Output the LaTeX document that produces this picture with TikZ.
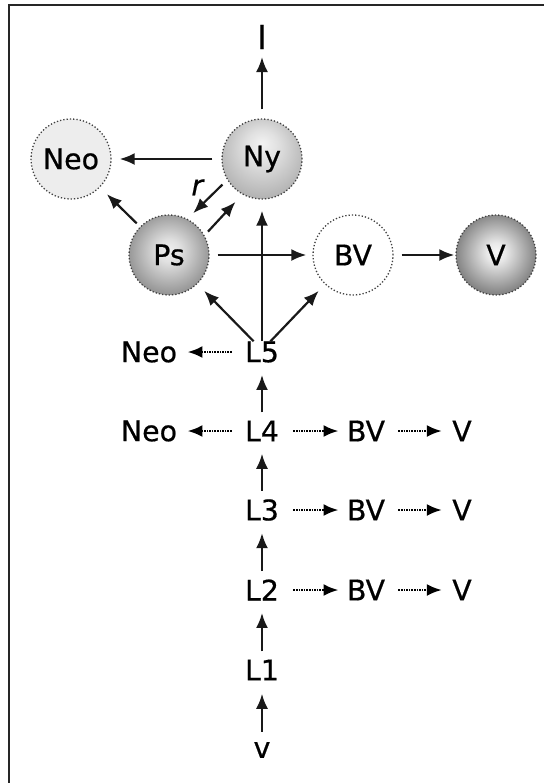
\documentclass[tikz,border=0pt]{standalone}
\usepackage{fontspec}
\setmainfont{DejaVu Sans}[FakeBold=0.6]
\usetikzlibrary{arrows.meta}
\colorlet{myframe}{black!85}
\colorlet{myrim}{black!75}
\colorlet{myneo}{black!7}
\colorlet{myarrow}{black!90}
% radial fills of the grey states
\pgfdeclareradialshading{nyshade}{\pgfpoint{0bp}{10bp}}{color(0bp)=(black!5); color(10bp)=(black!12); color(35bp)=(black!36); color(50bp)=(black!36)}
\pgfdeclareradialshading{psshade}{\pgfpoint{0bp}{3bp}}{color(0bp)=(black!6); color(7bp)=(black!12); color(28bp)=(black!45); color(50bp)=(black!45)}
\pgfdeclareradialshading{vshade}{\pgfpoint{0bp}{2bp}}{color(0bp)=(black!3); color(6bp)=(black!9); color(27bp)=(black!52); color(50bp)=(black!52)}
\tikzset{
  state node/.style={circle, minimum size=40pt, inner sep=0pt, draw=myrim, densely dotted, line width=0.65pt, font=\fontsize{14.2}{16}\selectfont},
  stage node/.style={inner sep=2pt, font=\fontsize{14.2}{16}\selectfont},
  main edge/.style={-{Latex[length=7.5pt,width=6pt]}, line width=1.1pt, draw=myarrow, shorten >=4pt, shorten <=4pt},
  chain edge/.style={main edge, shorten >=4pt, shorten <=2pt},
  dot edge/.style={-{Latex[length=7.5pt,width=6pt]}, line width=1.3pt, draw=black, dash pattern=on 0.8pt off 0.5pt, shorten >=3pt, shorten <=4.5pt},
  frame/.style={draw=myframe, line width=1.1pt}
}

\begin{document}
\begin{tikzpicture}[x=0.5pt, y=-0.5pt]

  \useasboundingbox (0,0) rectangle (544,783);
  \clip (0,0) rectangle (544,783);
  \draw[frame] (9,5) rectangle (620,860);

  % =======================================================
  % UPPER NETWORK OF STATES
  % =======================================================

  \node[stage node, font=\fontsize{16.5}{18}\selectfont] (I) at (262,37) {I};
  \node[state node, fill=myneo] (NeoC) at (71,159) {Neo};
  \node[state node, shading=nyshade] (Ny) at (262,159) {Ny};
  \node[state node, shading=psshade] (Ps) at (169,255) {Ps};
  \node[state node, fill=white] (BVC) at (353,255) {BV};
  \node[state node, shading=vshade] (VC) at (496,255) {V};

  \draw[main edge, shorten <=4.5pt, shorten >=1.8pt] (Ny) -- (I);
  \draw[main edge, shorten <=4.5pt] (Ny) -- (NeoC);
  \draw[main edge, shorten <=3.3pt, shorten >=4pt] (Ny.211) -- (Ps.63)
    node[midway, xshift=-5pt, yshift=6pt, font=\fontsize{14.2}{16}\selectfont\itshape] (r) {r};
  \draw[main edge, shorten <=2.5pt, shorten >=5pt] (Ps.29) -- (Ny.241);
  \draw[main edge, shorten <=2.3pt, shorten >=4.75pt] (Ps) -- (NeoC);
  \draw[main edge, shorten >=3pt] (Ps) -- (BVC);
  \draw[main edge, shorten >=0.5pt] (BVC) -- (VC);

  % =======================================================
  % LARVAL CHAIN
  % =======================================================

  \node[stage node] (L5) at (262,352) {L5};
  \node[stage node] (L4) at (262,431) {L4};
  \node[stage node] (L3) at (262,510) {L3};
  \node[stage node] (L2) at (262,590) {L2};
  \node[stage node] (L1) at (262,670) {L1};
  \node[stage node] (v) at (262,750) {v};

  \node[stage node] (Neo5) at (149,352) {Neo};
  \node[stage node] (Neo4) at (149,431) {Neo};
  \node[stage node] (BV4) at (366,431) {BV};
  \node[stage node] (V4) at (462,431) {V};
  \node[stage node] (BV3) at (366,510) {BV};
  \node[stage node] (V3) at (462,510) {V};
  \node[stage node] (BV2) at (366,590) {BV};
  \node[stage node] (V2) at (462,590) {V};

  % L5 feeds the upper states
  \draw[main edge, shorten <=-3pt, shorten >=4.75pt] (L5.130) -- (Ps);
  \draw[main edge, shorten <=-3pt, shorten >=4.5pt] (L5.50) -- (BVC);
  \draw[main edge, shorten <=-2pt, shorten >=5.5pt] (L5) -- (Ny);

  % moults
  \draw[chain edge] (L4) -- (L5);
  \draw[chain edge] (L3) -- (L4);
  \draw[chain edge] (L2) -- (L3);
  \draw[chain edge] (L1) -- (L2);
  \draw[chain edge, shorten <=3pt, shorten >=4.5pt] (v) -- (L1);

  % side routes
  \draw[dot edge] (L5) -- (Neo5);
  \draw[dot edge] (L4) -- (Neo4);
  \draw[dot edge, shorten <=5pt, shorten >=2pt] (L4) -- (BV4);
  \draw[dot edge] (BV4) -- (V4);
  \draw[dot edge, shorten <=5pt, shorten >=2pt] (L3) -- (BV3);
  \draw[dot edge] (BV3) -- (V3);
  \draw[dot edge, shorten <=5pt, shorten >=2pt] (L2) -- (BV2);
  \draw[dot edge] (BV2) -- (V2);

\end{tikzpicture}
\end{document}
